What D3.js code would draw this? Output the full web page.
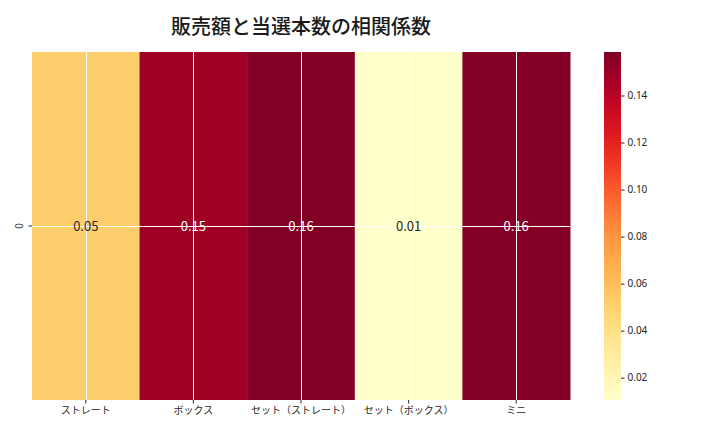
<!DOCTYPE html>
<html><head><meta charset="utf-8">
<script src="https://cdn.jsdelivr.net/npm/d3@7"></script>
<style>body{margin:0;background:#fff}svg{display:block}text{font-family:"Noto Sans CJK JP","Noto Sans",sans-serif}</style>
</head><body>
<svg id="c" width="720" height="432"></svg>
<script>
const categories = ["ストレート","ボックス","セット（ストレート）","セット（ボックス）","ミニ"];
const values = [0.052, 0.149, 0.158, 0.011, 0.157];
const labels = ["0.05","0.15","0.16","0.01","0.16"];
const rows = ["0"];
const cbTicks = [0.02,0.04,0.06,0.08,0.10,0.12,0.14];
const title = "販売額と当選本数の相関係数";

const svg = d3.select("#c");
const L=32,R=570,T=52,B=400;
const x = d3.scaleBand().domain(categories).range([L,R]);
const y = d3.scaleBand().domain(rows).range([T,B]);
const vmin=0.0105, vmax=0.1585;
const color = d3.scaleSequential(d3.interpolateYlOrRd).domain([vmin,vmax]);

svg.selectAll("rect.cell").data(values).join("rect")
  .attr("x",(d,i)=>x(categories[i])).attr("y",y("0"))
  .attr("width",x.bandwidth()+0.5).attr("height",y.bandwidth())
  .attr("fill",d=>color(d));

// grid lines
const g = svg.append("g");
categories.forEach(c=>{
  const cx = Math.round(x(c)+x.bandwidth()/2)+0.5;
  g.append("line").attr("x1",cx).attr("x2",cx).attr("y1",T).attr("y2",B).attr("stroke","#fff").attr("stroke-width",1);
});
const gy = Math.round(y("0")+y.bandwidth()/2)+0.5;
g.append("line").attr("x1",L).attr("x2",R).attr("y1",gy).attr("y2",gy).attr("stroke","#fff").attr("stroke-width",1);

// annotations
svg.selectAll("text.ann").data(values).join("text")
  .attr("x",(d,i)=>x(categories[i])+x.bandwidth()/2).attr("y",y("0")+y.bandwidth()/2-1)
  .attr("text-anchor","middle").attr("dominant-baseline","central")
  .attr("font-size",13)
  .attr("fill",d=>{const c=d3.rgb(color(d));const l=0.2126*c.r+0.7152*c.g+0.0722*c.b;return l>128?"#262626":"#ffffff";})
  .text((d,i)=>labels[i]);

// x axis
const xa = svg.append("g").attr("transform",`translate(0,${B})`)
  .call(d3.axisBottom(x).tickSize(3.5).tickPadding(3));
xa.select(".domain").remove();
xa.selectAll("text").attr("font-size",10).attr("fill","#262626").style("font-family",'"Noto Sans CJK JP",sans-serif');
xa.selectAll("line").attr("stroke","#262626");

// y axis
const ya = svg.append("g").attr("transform",`translate(${L},0)`)
  .call(d3.axisLeft(y).tickSize(3.5).tickPadding(3));
ya.select(".domain").remove();
ya.selectAll("line").attr("stroke","#262626");
ya.selectAll(".tick text").attr("font-size",10).attr("fill","#262626")
  .attr("text-anchor","middle").attr("dy",null).attr("dominant-baseline","central")
  .attr("x",0).attr("y",0).attr("transform","translate(-14,0) rotate(-90)");

// colorbar
const cbx=604, cbw=17;
const cy = d3.scaleLinear().domain([vmin,vmax]).range([B,T]);
const defs = svg.append("defs");
const grad = defs.append("linearGradient").attr("id","cbg").attr("x1",0).attr("x2",0).attr("y1",1).attr("y2",0);
d3.range(0,1.0001,0.05).forEach(t=>{
  grad.append("stop").attr("offset",t).attr("stop-color",color(vmin+t*(vmax-vmin)));
});
svg.append("rect").attr("x",cbx).attr("y",T).attr("width",cbw).attr("height",B-T).attr("fill","url(#cbg)");
const ca = svg.append("g").attr("transform",`translate(${cbx+cbw},0)`)
  .call(d3.axisRight(cy).tickValues(cbTicks).tickFormat(d3.format(".2f")).tickSize(3.5).tickPadding(3));
ca.select(".domain").remove();
ca.selectAll("line").attr("stroke","#262626");
ca.selectAll("text").attr("font-size",10).attr("fill","#262626").style("font-family",'"Noto Sans","DejaVu Sans",sans-serif');

// title
svg.append("text").attr("x",(L+R)/2).attr("y",25).attr("text-anchor","middle").attr("dominant-baseline","central")
  .attr("font-size",20).attr("font-weight","500").attr("fill","#1a1a1a").text(title);
</script>
</body></html>
